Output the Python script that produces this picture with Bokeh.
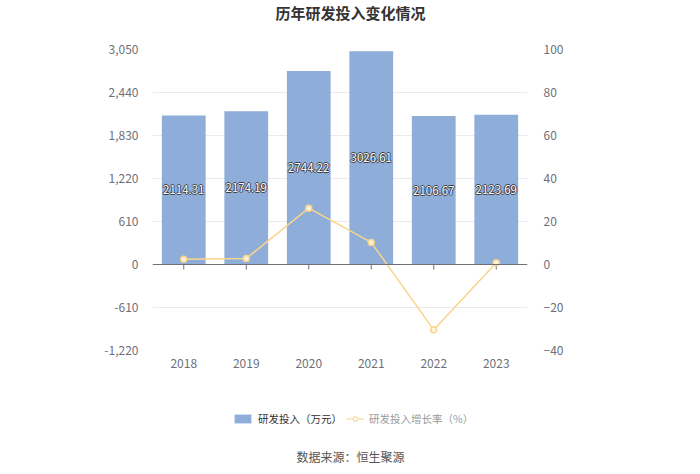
from bokeh.plotting import figure
from bokeh.layouts import column
from bokeh.models import (Range1d, LinearAxis, FixedTicker, NumeralTickFormatter, Span,
                          Legend, LegendItem, Label, ColumnDataSource, FactorRange)
from bokeh.core.properties import value
from bokeh.embed import file_html
from bokeh.resources import INLINE

years = ["2018", "2019", "2020", "2021", "2022", "2023"]
rd_spend = [2114.31, 2174.19, 2744.22, 3026.61, 2106.67, 2123.69]
rd_growth = [2.4, 2.83, 26.22, 10.29, -30.39, 0.81]
left_ticks = [-1220, -610, 0, 610, 1220, 1830, 2440, 3050]
right_ticks = [-40, -20, 0, 20, 40, 60, 80, 100]
labels = ["%.2f" % v for v in rd_spend]
title_text = "历年研发投入变化情况"
source_text = "数据来源：恒生聚源"
series_names = ["研发投入（万元）", "研发投入增长率（%）"]

FONT = "Noto Sans CJK SC"
BAR = "#8eadd9"
LINE = "#f9d48b"
LINE_FADED = "#fbe0b0"
W = 684
FL = 152  # frame left offset (frames are aligned in the column)


def blank(h):
    f = figure(width=W, height=h, x_range=Range1d(0, W), y_range=Range1d(0, h),
               output_backend="svg", toolbar_location=None,
               x_axis_location=None, y_axis_location=None, min_border=0)
    f.outline_line_color = None
    f.xgrid.visible = False
    f.ygrid.visible = False
    return f


# ---- title strip
pt = blank(25)
pt.add_layout(Label(x=350 - FL, y=13, x_units="screen", y_units="screen", text=title_text,
                    text_align="center", text_baseline="middle", text_font=FONT,
                    text_font_size="15px", text_font_style="bold", text_color="#333"))

# ---- main chart
src = ColumnDataSource(dict(x=years, top=rd_spend, mid=[v / 2 for v in rd_spend],
                            lab=labels, rate=rd_growth))

p = figure(width=W, height=350, x_range=FactorRange(*years, range_padding=0),
           y_range=Range1d(left_ticks[0], left_ticks[-1]),
           output_backend="svg", toolbar_location=None,
           min_border_left=FL, min_border_right=157, min_border_top=24, min_border_bottom=25)
p.outline_line_color = None
p.extra_y_ranges = {"rate": Range1d(right_ticks[0], right_ticks[-1])}

p.xgrid.grid_line_color = None
p.ygrid.grid_line_color = "#e9e9ee"
p.ygrid.ticker = FixedTicker(ticks=left_ticks)

ya = p.yaxis[0]
ya.ticker = FixedTicker(ticks=left_ticks)
ya.formatter = NumeralTickFormatter(format="0,0")
ya.axis_line_color = None
ya.major_tick_line_color = None
ya.minor_tick_line_color = None
ya.major_label_text_color = "#6e7079"
ya.major_label_text_font = FONT
ya.major_label_text_font_size = "12px"
ya.major_label_standoff = 8

ra = LinearAxis(y_range_name="rate", ticker=FixedTicker(ticks=right_ticks))
ra.axis_line_color = None
ra.major_tick_line_color = None
ra.minor_tick_line_color = None
ra.major_label_text_color = "#6e7079"
ra.major_label_text_font = FONT
ra.major_label_text_font_size = "12px"
ra.major_label_standoff = 10
p.add_layout(ra, "right")

xa = p.xaxis[0]
xa.axis_line_color = None
xa.major_tick_line_color = None
xa.major_label_text_color = "#6e7079"
xa.major_label_text_font = FONT
xa.major_label_text_font_size = "12px"
xa.major_label_standoff = 2

p.vbar(x="x", top="top", width=0.7, source=src, fill_color=BAR, line_color=None)

p.add_layout(Span(location=0, dimension="width", line_color="#6e7079", line_width=1))
tick_len = (left_ticks[-1] - left_ticks[0]) / 301 * 5
p.segment(x0="x", x1="x", y0=0, y1=-tick_len, source=src, line_color="#6e7079", line_width=1)

for dx, dy in [(-1, 0), (1, 0), (0, -1), (0, 1)]:
    p.text(x="x", y="mid", text="lab", source=src, x_offset=dx, y_offset=dy,
           text_align="center", text_baseline="middle", text_color="#3d3d3d",
           text_font=value(FONT), text_font_size="11.5px")
p.text(x="x", y="mid", text="lab", source=src, text_align="center", text_baseline="middle",
       text_color="white", text_font=value(FONT), text_font_size="11.5px")

p.line(x="x", y="rate", source=src, y_range_name="rate", line_color=LINE, line_width=1.5)
p.scatter(x="x", y="rate", source=src, y_range_name="rate", size=6,
          fill_color="#fdf2dc", line_color=LINE, line_width=1.5)

# ---- legend + source strip (legend swatches use off-screen dummy renderers)
pb = blank(91)
hidden = ColumnDataSource(dict(x=[-50], y=[-50]))
lb = pb.vbar(x="x", top="y", width=1, source=hidden, fill_color=BAR, line_color=None)
ll = pb.line(x="x", y="y", source=hidden, line_color=LINE_FADED, line_width=1.5)
lp = pb.scatter(x="x", y="y", source=hidden, size=9, fill_color="white",
                line_color=LINE_FADED, line_width=1.5)

common = dict(orientation="horizontal", label_text_font=FONT, label_text_font_size="10.5px",
              glyph_height=11, border_line_color=None, background_fill_alpha=0,
              padding=0, margin=0, label_standoff=5)
leg1 = Legend(items=[LegendItem(label=series_names[0], renderers=[lb])],
              location=(232 - FL, 40), label_text_color="#333", glyph_width=21, **common)
leg2 = Legend(items=[LegendItem(label=series_names[1], renderers=[ll, lp])],
              location=(346 - FL, 40), label_text_color="#9a9a9a", glyph_width=18, **common)
pb.add_layout(leg1)
pb.add_layout(leg2)
pb.add_layout(Label(x=350 - FL, y=10, x_units="screen", y_units="screen", text=source_text,
                    text_align="center", text_baseline="middle", text_font=FONT,
                    text_font_size="12px", text_color="#555"))

layout = column(pt, p, pb, spacing=0)
open("out.html", "w").write(file_html(layout, INLINE))
